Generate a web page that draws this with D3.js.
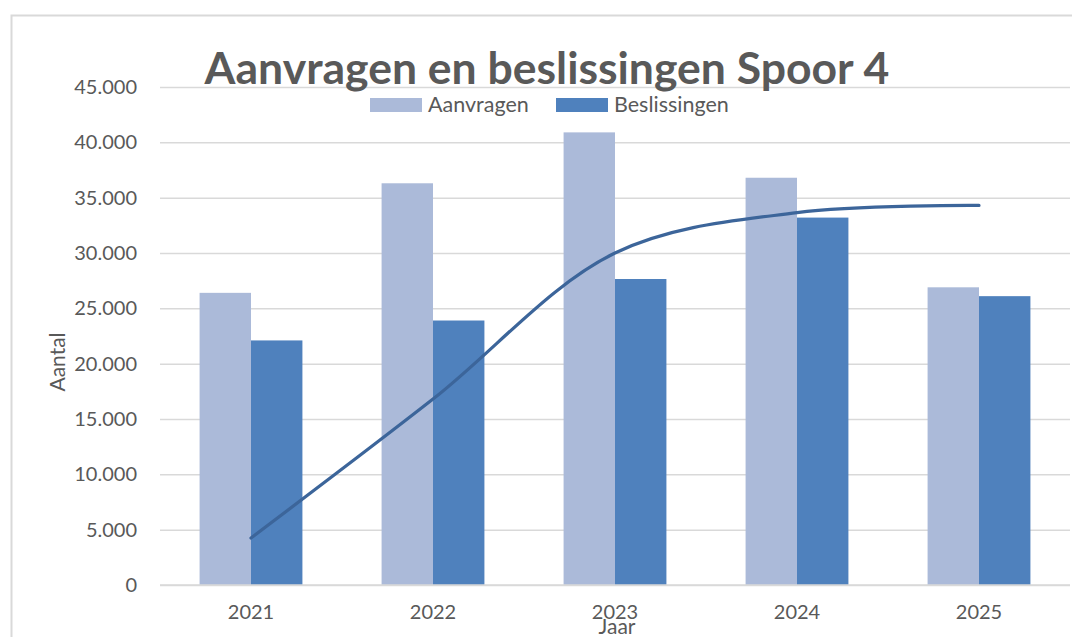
<!DOCTYPE html>
<html lang="nl">
  <head>
    <meta charset="UTF-8" />
    <title>Aanvragen en beslissingen Spoor 4</title>
    <script src="https://d3js.org/d3.v7.min.js"></script>
    <style>
      body { margin: 0; background: #fff; }
      text { font-family: Lato, "Open Sans", sans-serif; fill: #595959; }
    </style>
  </head>
  <body>
    <div id="chart"></div>
    <script>
      // data
      var years = ["2021", "2022", "2023", "2024", "2025"];
      var aanvragen = [26400, 36300, 40900, 36800, 26900];
      var beslissingen = [22100, 23900, 27650, 33200, 26100];
      var lijn = [4250, 16800, 30000, 33650, 34300];
      var yTicks = [0, 5000, 10000, 15000, 20000, 25000, 30000, 35000, 40000, 45000];

      var width = 1072;
      var height = 637;
      var plotLeft = 160, plotRight = 1070, plotTop = 87, plotBottom = 585;

      var svg = d3
        .select("#chart")
        .append("svg")
        .attr("width", width)
        .attr("height", height);

      // chart frame
      svg
        .append("path")
        .attr("d", "M11.5," + height + "V15.5H" + width)
        .attr("fill", "none")
        .attr("stroke", "#d9d9d9")
        .attr("stroke-width", 2);

      var x = d3.scaleBand().domain(years).range([plotLeft, plotRight]);
      var inner = d3
        .scaleBand()
        .domain(["a", "b"])
        .range([0, x.bandwidth()])
        .paddingInner(0)
        .paddingOuter(0.77);
      var y = d3.scaleLinear().domain([0, 45000]).range([plotBottom, plotTop]);

      var fmt = function (d) {
        return d3.format(",")(d).replace(/,/g, ".");
      };

      // gridlines + y labels
      var yAxis = svg
        .append("g")
        .attr("transform", "translate(" + plotLeft + ",0)")
        .call(d3.axisLeft(y).tickValues(yTicks).tickSize(-(plotRight - plotLeft)).tickPadding(23).tickFormat(fmt));
      yAxis.select(".domain").remove();
      yAxis.selectAll(".tick line").attr("stroke", "#d9d9d9").attr("stroke-width", 1.5);
      yAxis.selectAll(".tick text").style("font-size", "20px").attr("fill", "#595959");

      // bars
      svg
        .append("g")
        .selectAll("rect")
        .data(aanvragen)
        .join("rect")
        .attr("x", function (d, i) { return x(years[i]) + inner("a"); })
        .attr("y", function (d) { return y(d); })
        .attr("width", inner.bandwidth())
        .attr("height", function (d) { return y(0) - y(d); })
        .attr("fill", "#abbad9");

      svg
        .append("g")
        .selectAll("rect")
        .data(beslissingen)
        .join("rect")
        .attr("x", function (d, i) { return x(years[i]) + inner("b"); })
        .attr("y", function (d) { return y(d); })
        .attr("width", inner.bandwidth())
        .attr("height", function (d) { return y(0) - y(d); })
        .attr("fill", "#4f81bd");

      // baseline over the bars
      svg
        .append("line")
        .attr("x1", plotLeft)
        .attr("x2", plotRight)
        .attr("y1", y(0))
        .attr("y2", y(0))
        .attr("stroke", "#d9d9d9")
        .attr("stroke-width", 1.5);

      // smoothed line
      var line = d3
        .line()
        .x(function (d, i) { return x(years[i]) + x.bandwidth() / 2; })
        .y(function (d) { return y(d); })
        .curve(d3.curveCatmullRom);

      svg
        .append("path")
        .datum(lijn)
        .attr("fill", "none")
        .attr("stroke", "#3c659a")
        .attr("stroke-width", 3.2)
        .attr("stroke-linecap", "round")
        .attr("d", line);

      // x labels
      var xAxis = svg
        .append("g")
        .attr("transform", "translate(0," + plotBottom + ")")
        .call(d3.axisBottom(x).tickSize(0).tickPadding(20));
      xAxis.select(".domain").remove();
      xAxis.selectAll(".tick text").style("font-size", "20px").attr("fill", "#595959");

      // titles
      svg
        .append("text")
        .attr("x", 547)
        .attr("y", 84)
        .attr("text-anchor", "middle")
        .style("font-size", "44.5px")
        .style("font-weight", "bold")
        .text("Aanvragen en beslissingen Spoor 4");

      svg
        .append("text")
        .attr("transform", "rotate(-90)")
        .attr("x", -362)
        .attr("y", 65)
        .attr("text-anchor", "middle")
        .style("font-size", "21px")
        .text("Aantal");

      svg
        .append("text")
        .attr("x", 617)
        .attr("y", 634)
        .attr("text-anchor", "middle")
        .style("font-size", "21px")
        .text("Jaar");

      // legend
      var legend = [
        { name: "Aanvragen", color: "#abbad9", x: 370 },
        { name: "Beslissingen", color: "#4f81bd", x: 556 },
      ];
      var lg = svg.append("g").selectAll("g").data(legend).join("g");
      lg.append("rect")
        .attr("x", function (d) { return d.x; })
        .attr("y", 98)
        .attr("width", 52)
        .attr("height", 14)
        .attr("fill", function (d) { return d.color; });
      lg.append("text")
        .attr("x", function (d) { return d.x + 58; })
        .attr("y", 112)
        .style("font-size", "21.5px")
        .text(function (d) { return d.name; });
    </script>
  </body>
</html>
